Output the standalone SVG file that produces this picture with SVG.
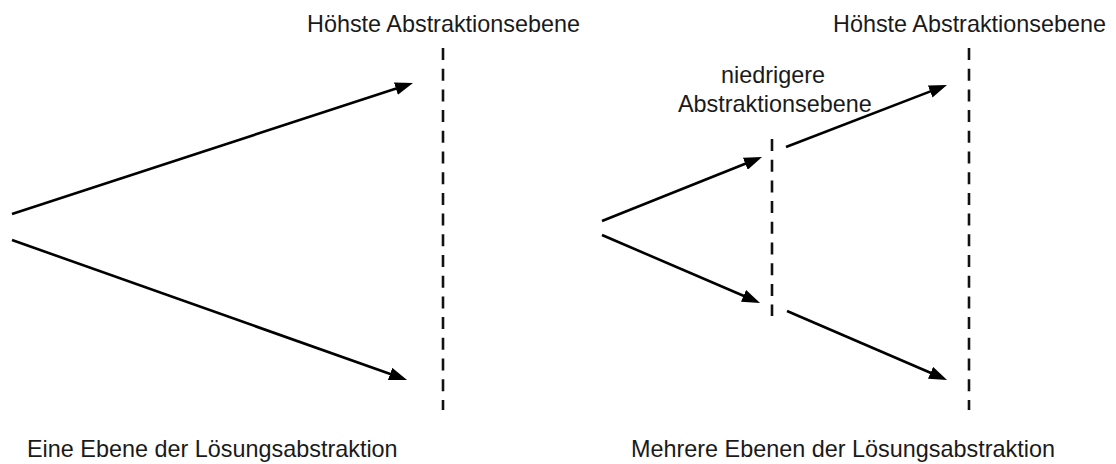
<svg xmlns="http://www.w3.org/2000/svg" width="1116" height="464" viewBox="0 0 1116 464">
<style>
.lbl{font-family:"Liberation Sans",Arial,sans-serif;font-size:23.4px;fill:#1a1a1a}
.lvl{stroke:#111;stroke-width:2.6;stroke-dasharray:12 8.7;fill:none}
.arr{stroke:#000;stroke-width:2.6;fill:none;marker-end:url(#ah)}
</style>
<defs>
<marker id="ah" markerUnits="userSpaceOnUse" markerWidth="18" markerHeight="13" refX="10" refY="6.5" orient="auto">
<path d="M0,0 L18,6.5 L0,13 z" fill="#000"/>
</marker>
</defs>
<rect width="1116" height="464" fill="#fff"/>
<g id="left-top-level">
<line class="lvl" x1="443" y1="48" x2="443" y2="410"/>
<text class="lbl" x="307" y="32">Höhste Abstraktionsebene</text>
</g>
<g id="left-caption">
<text class="lbl" x="27" y="457">Eine Ebene der Lösungsabstraktion</text>
</g>
<g id="right-top-level">
<line class="lvl" x1="969" y1="48" x2="969" y2="410"/>
<text class="lbl" x="833" y="32">Höhste Abstraktionsebene</text>
</g>
<g id="right-lower-level">
<line class="lvl" x1="772" y1="139" x2="772" y2="316"/>
<text class="lbl" x="721" y="83">niedrigere</text>
<text class="lbl" x="678" y="112">Abstraktionsebene</text>
</g>
<g id="right-caption">
<text class="lbl" x="631" y="457">Mehrere Ebenen der Lösungsabstraktion</text>
</g>
<g id="connectors">
<line class="arr" x1="12" y1="214" x2="405.4" y2="85.5"/>
<line class="arr" x1="12" y1="240" x2="399.5" y2="377.3"/>
<line class="arr" x1="602" y1="221" x2="754.6" y2="160"/>
<line class="arr" x1="602" y1="235" x2="752.7" y2="299.8"/>
<line class="arr" x1="786" y1="147" x2="939.5" y2="87.9"/>
<line class="arr" x1="787" y1="311" x2="939.7" y2="376.8"/>
</g>
</svg>
